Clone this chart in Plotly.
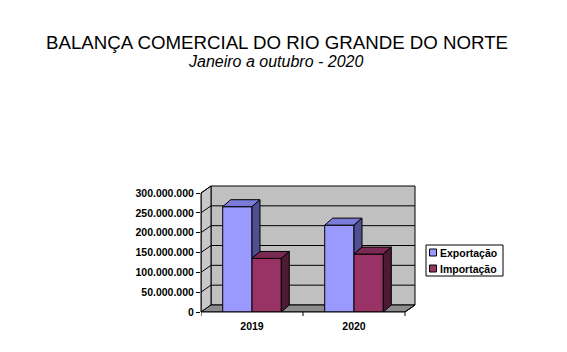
import plotly.graph_objects as go

# ---------------- data ----------------
categories = ["2019", "2020"]
series_names = ["Exportação", "Importação"]
exportacao = [265_500_000, 219_000_000]
importacao = [135_000_000, 146_000_000]
y_tick_values = [0, 50_000_000, 100_000_000, 150_000_000, 200_000_000, 250_000_000, 300_000_000]
title_text = "BALANÇA COMERCIAL DO RIO GRANDE DO NORTE"
subtitle_text = "Janeiro a outubro - 2020"

# ---------------- styling / geometry ----------------
W, H = 567, 352
FONT = "Arial, 'Liberation Sans', sans-serif"
LBL = 10.5
front_col = ["#9999FF", "#993366"]
top_col = ["#7B7BD9", "#7A2952"]
side_col = ["#4F4F91", "#4C1A33"]

px_per_cat = 102.0                  # pixels per category unit
y_max = y_tick_values[-1]
px_per_y = 119.0 / y_max            # pixels per value unit
plot_left, plot_bottom = 201, 312   # pixel position of axis origin

wall_dx = 10 / px_per_cat
wall_dy = 7 / px_per_y
bar_dx = 8 / px_per_cat
bar_dy = 7 / px_per_y
bar_w = 29.3 / px_per_cat
pad_x = 2 / px_per_cat
pad_y = 2 / px_per_y

x_lo = -0.5
x_hi = len(categories) - 0.5 + wall_dx + pad_x
y_lo = 0
y_hi = y_max + wall_dy + pad_y

plot_w = (x_hi - x_lo) * px_per_cat
plot_h = (y_hi - y_lo) * px_per_y
m_l = plot_left
m_b = H - plot_bottom
m_r = W - plot_left - plot_w
m_t = H - m_b - plot_h


def paper_x(px):
    return (px - m_l) / plot_w


def paper_y(py):
    return (H - m_b - py) / plot_h


fig = go.Figure()

# ---------------- front faces (bars) ----------------
series_vals = [exportacao, importacao]
offsets = [-bar_w, 0.0]
xs = list(range(len(categories)))
for k, (name, vals) in enumerate(zip(series_names, series_vals)):
    fig.add_trace(go.Bar(
        x=xs, y=vals, name=name, width=bar_w, offset=offsets[k],
        marker=dict(color=front_col[k], line=dict(color="black", width=1)),
        showlegend=False, hoverinfo="name+y",
    ))


def poly(pts, fill):
    px_ = [p[0] for p in pts] + [pts[0][0]]
    py_ = [p[1] for p in pts] + [pts[0][1]]
    fig.add_trace(go.Scatter(
        x=px_, y=py_, mode="lines", fill="toself", fillcolor=fill,
        line=dict(color="black", width=1), showlegend=False, hoverinfo="skip",
    ))


# ---------------- 3D top and side faces ----------------
for i in xs:
    e, m = exportacao[i], importacao[i]
    xl = i + offsets[0]
    xm = xl + bar_w
    xr = xm + bar_w
    # export top
    poly([(xl, e), (xm, e), (xm + bar_dx, e + bar_dy), (xl + bar_dx, e + bar_dy)], top_col[0])
    # export side (only the part not hidden by the import bar)
    low = min(m, e)
    poly([(xm, low), (xm + bar_dx, low + bar_dy), (xm + bar_dx, e + bar_dy), (xm, e)], side_col[0])
    # import top
    poly([(xm, m), (xr, m), (xr + bar_dx, m + bar_dy), (xm + bar_dx, m + bar_dy)], top_col[1])
    # import side
    poly([(xr, 0), (xr + bar_dx, bar_dy), (xr + bar_dx, m + bar_dy), (xr, m)], side_col[1])

# ---------------- walls, floor, gridlines ----------------
n = len(categories)
xa, xb = -0.5, n - 0.5
shapes = []
# back wall
shapes.append(dict(type="rect", xref="x", yref="y", layer="below",
                   x0=xa + wall_dx, x1=xb + wall_dx, y0=wall_dy, y1=y_max + wall_dy,
                   fillcolor="#C0C0C0", line=dict(color="black", width=1)))
# side wall
shapes.append(dict(type="path", xref="x", yref="y", layer="below",
                   path=f"M{xa},0 L{xa + wall_dx},{wall_dy} L{xa + wall_dx},{y_max + wall_dy} L{xa},{y_max} Z",
                   fillcolor="#C8C8C8", line=dict(color="black", width=1)))
# floor
shapes.append(dict(type="path", xref="x", yref="y", layer="below",
                   path=f"M{xa},0 L{xb},0 L{xb + wall_dx},{wall_dy} L{xa + wall_dx},{wall_dy} Z",
                   fillcolor="#8C8C8C", line=dict(color="black", width=1)))
# gridlines
for v in y_tick_values[1:]:
    if v < y_max:
        shapes.append(dict(type="line", xref="x", yref="y", layer="below",
                           x0=xa + wall_dx, x1=xb + wall_dx, y0=v + wall_dy, y1=v + wall_dy,
                           line=dict(color="black", width=1)))
    shapes.append(dict(type="line", xref="x", yref="y", layer="below",
                       x0=xa, x1=xa + wall_dx, y0=v, y1=v + wall_dy,
                       line=dict(color="black", width=1)))
# front axis lines
shapes.append(dict(type="line", xref="paper", yref="y", x0=0, x1=0, y0=0, y1=y_max,
                   line=dict(color="black", width=1)))
shapes.append(dict(type="line", xref="x", yref="paper", x0=xa, x1=xb, y0=0, y1=0,
                   line=dict(color="black", width=1)))
shapes.append(dict(type="line", xref="x", yref="y", x0=xb, x1=xb + wall_dx, y0=0, y1=wall_dy,
                   line=dict(color="black", width=1)))
# category boundary ticks
for b in range(n + 1):
    xv = b - 0.5
    shapes.append(dict(type="line", xref="x", yref="paper", x0=xv, x1=xv,
                       y0=0, y1=-4 / plot_h, line=dict(color="black", width=1)))

# ---------------- custom legend ----------------
lg_l, lg_r, lg_t, lg_b = 426, 503, 245, 276
shapes.append(dict(type="rect", xref="paper", yref="paper",
                   x0=paper_x(lg_l), x1=paper_x(lg_r), y0=paper_y(lg_b), y1=paper_y(lg_t),
                   fillcolor="white", line=dict(color="black", width=1)))
annotations = []
item_cy = [252.5, 268.5]
for k, name in enumerate(series_names):
    cy = item_cy[k]
    shapes.append(dict(type="rect", xref="paper", yref="paper",
                       x0=paper_x(429.5), x1=paper_x(436.5),
                       y0=paper_y(cy + 3.5), y1=paper_y(cy - 3.5),
                       fillcolor=front_col[k], line=dict(color="black", width=1)))
    annotations.append(dict(xref="paper", yref="paper", x=paper_x(437.5), y=paper_y(cy),
                            xanchor="left", yanchor="middle", showarrow=False, text=name,
                            font=dict(family=FONT, size=LBL, color="black", weight="bold")))

# ---------------- titles ----------------
annotations.append(dict(xref="paper", yref="paper", x=paper_x(276.5), y=paper_y(42.5),
                        xanchor="center", yanchor="middle", showarrow=False, text=title_text,
                        font=dict(family=FONT, size=18.7, color="black")))
annotations.append(dict(xref="paper", yref="paper", x=paper_x(275.5), y=paper_y(61.5),
                        xanchor="center", yanchor="middle", showarrow=False, text=subtitle_text,
                        font=dict(family=FONT, size=16, color="black", style="italic")))

fig.update_layout(
    width=W, height=H,
    margin=dict(l=m_l, r=m_r, t=m_t, b=m_b, pad=0, autoexpand=False),
    paper_bgcolor="white", plot_bgcolor="white",
    separators=",.",
    showlegend=False,
    shapes=shapes, annotations=annotations,
    xaxis=dict(range=[x_lo, x_hi], tickvals=xs, ticktext=categories,
               ticks="outside", ticklen=4, tickcolor="rgba(0,0,0,0)",
               showgrid=False, zeroline=False, showline=False, fixedrange=True,
               tickfont=dict(family=FONT, size=LBL, color="black", weight="bold")),
    yaxis=dict(range=[y_lo, y_hi], tickvals=y_tick_values, tickformat=",d",
               ticks="outside", ticklen=4, tickcolor="black", tickwidth=1,
               showgrid=False, zeroline=False, showline=False, fixedrange=True,
               tickfont=dict(family=FONT, size=LBL, color="black", weight="bold")),
)

fig.write_html("out.html")
